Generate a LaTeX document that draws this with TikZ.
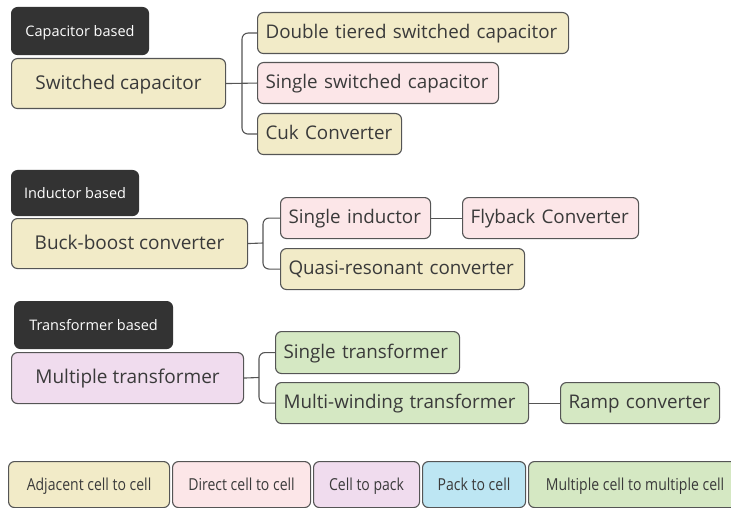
\documentclass[tikz,border=0pt]{standalone}
\usepackage{fontspec}
\setmainfont{Open Sans}
\newfontfamily\condfont[FakeStretch=0.85]{Open Sans}
\definecolor{yel}{HTML}{F2EBC8}
\definecolor{pnk}{HTML}{FCE6E8}
\definecolor{pur}{HTML}{F0DCEE}
\definecolor{blu}{HTML}{BDE6F3}
\definecolor{grn}{HTML}{D5E8C3}
\definecolor{drk}{HTML}{333333}
\definecolor{edgec}{HTML}{555555}
\definecolor{txtc}{HTML}{3A3A3A}
\tikzset{
  base/.style={draw=edgec, line width=1.1pt, rounded corners=6pt, inner sep=0pt, text=txtc, anchor=north west, text height=1.15em, text depth=0.03em},
  tag/.style={base, fill=drk, draw=drk, text=white, font=\fontsize{14.5}{17}\selectfont},
  mainbox/.style={base, font=\fontsize{19}{22}\selectfont},
  kid/.style={base, inner xsep=8pt, align=left, font=\fontsize{18.8}{22}\selectfont},
  legbox/.style={base, font=\condfont\fontsize{16.5}{19}\selectfont},
  conn/.style={draw=edgec, line width=1.1pt, rounded corners=6pt},
}
\begin{document}
\begin{tikzpicture}[x=1pt,y=-1pt]
\useasboundingbox (0,0) rectangle (731,508);
% --- capacitor group
\node[tag, minimum width=137pt, minimum height=47pt] (tc) at (11,7) {Capacitor based};
\node[mainbox, fill=yel, minimum width=214pt, minimum height=50pt] (sc) at (11,58) {Switched capacitor};
\node[kid, fill=yel, text width=295pt, minimum height=41pt] (dt) at (257,12) {Double tiered switched capacitor};
\node[kid, fill=pnk, text width=225pt, minimum height=41pt] (ss) at (257,62) {Single switched capacitor};
\node[kid, fill=yel, text width=128pt, minimum height=41pt] (cuk) at (257,113) {Cuk Converter};
\coordinate (b1) at (242,83);
\draw[conn] (dt.west) -| (b1) |- (cuk.west);
\draw[conn] (sc.east) -- (ss.west);
% --- inductor group
\node[tag, minimum width=127pt, minimum height=45pt] (ti) at (11,170) {Inductor based};
\node[mainbox, fill=yel, minimum width=236pt, minimum height=50pt] (bb) at (11,218) {Buck-boost converter};
\node[kid, fill=pnk, text width=134pt, minimum height=41pt] (si) at (280,197) {Single inductor};
\node[kid, fill=pnk, text width=160pt, minimum height=41pt] (fb) at (462,197) {Flyback Converter};
\node[kid, fill=yel, text width=228pt, minimum height=41pt] (qr) at (280,248) {Quasi-resonant converter};
\coordinate (b2) at (263,243);
\draw[conn] (si.west) -| (b2) |- (qr.west);
\draw[conn] (bb.east) -- (b2);
\draw[conn] (si.east) -- (fb.west);
% --- transformer group
\node[tag, minimum width=158pt, minimum height=47pt] (tt) at (14,301) {Transformer based};
\node[mainbox, fill=pur, minimum width=232pt, minimum height=51pt] (mt) at (11,352) {Multiple transformer};
\node[kid, fill=grn, text width=168pt, minimum height=42pt] (st) at (275,331) {Single transformer};
\node[kid, fill=grn, text width=237pt, minimum height=41pt] (mw) at (275,382) {Multi-winding transformer};
\node[kid, fill=grn, text width=143pt, minimum height=41pt] (rc) at (560,382) {Ramp converter};
\coordinate (b3) at (259,377.5);
\draw[conn] (st.west) -| (b3) |- (mw.west);
\draw[conn] (mt.east) -- (b3);
\draw[conn] (mw.east) -- (rc.west);
% --- legend
\node[legbox, fill=yel, minimum width=161pt, minimum height=46pt] (l1) at (8,461) {Adjacent cell to cell};
\node[legbox, fill=pnk, minimum width=138pt, minimum height=46pt] (l2) at (172,461) {Direct cell to cell};
\node[legbox, fill=pur, minimum width=106pt, minimum height=46pt] (l3) at (313,461) {Cell to pack};
\node[legbox, fill=blu, minimum width=103pt, minimum height=46pt] (l4) at (422,461) {Pack to cell};
\node[legbox, fill=grn, minimum width=213pt, minimum height=46pt] (l5) at (528,461) {Multiple cell to multiple cell};
\end{tikzpicture}
\end{document}
